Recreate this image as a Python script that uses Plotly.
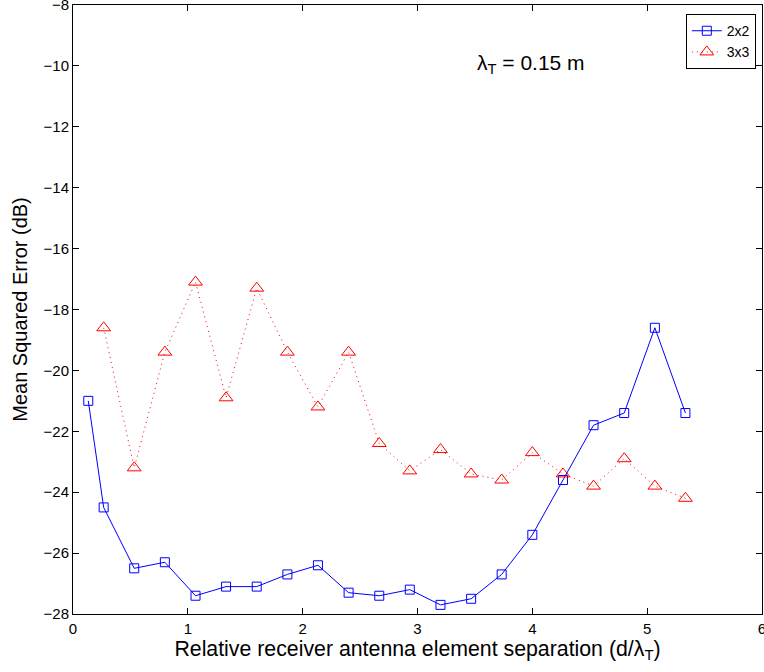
import plotly.graph_objects as go

x_2x2 = [0.133, 0.267, 0.533, 0.8, 1.067, 1.333, 1.6, 1.867, 2.133, 2.4, 2.667,
         2.933, 3.2, 3.467, 3.733, 4.0, 4.267, 4.533, 4.8, 5.067, 5.333]
y_2x2 = [-21.0, -24.5, -26.5, -26.3, -27.4, -27.1, -27.1, -26.7, -26.4, -27.3, -27.4,
         -27.2, -27.7, -27.5, -26.7, -25.4, -23.6, -21.8, -21.4, -18.6, -21.4]

x_3x3 = [0.267, 0.533, 0.8, 1.067, 1.333, 1.6, 1.867, 2.133, 2.4, 2.667,
         2.933, 3.2, 3.467, 3.733, 4.0, 4.267, 4.533, 4.8, 5.067, 5.333]
y_3x3 = [-18.6, -23.2, -19.4, -17.1, -20.9, -17.3, -19.4, -21.2, -19.4, -22.4,
         -23.3, -22.6, -23.4, -23.6, -22.7, -23.4, -23.8, -22.9, -23.8, -24.2]

x_ticks = [0, 1, 2, 3, 4, 5, 6]
y_ticks = [-28, -26, -24, -22, -20, -18, -16, -14, -12, -10, -8]

fig = go.Figure()
fig.add_trace(go.Scatter(
    x=x_2x2, y=y_2x2, name="2x2", mode="lines+markers",
    line=dict(color="#0000ff", width=1),
    marker=dict(symbol="square-open", size=9, color="#0000ff", line=dict(width=1)),
))
fig.add_trace(go.Scatter(
    x=x_3x3, y=y_3x3, name="3x3", mode="lines+markers",
    line=dict(color="#ff0000", width=1, dash="1px,4px"),
    marker=dict(symbol="triangle-up-open", size=12, color="#ff0000", line=dict(width=1)),
))

fig.add_annotation(
    x=3.5, y=-9.95, xref="x", yref="y", xanchor="left", yanchor="middle",
    text="λ<sub>T</sub> = 0.15 m", showarrow=False,
    font=dict(size=21, color="black"),
)

axis_common = dict(
    showline=True, linecolor="black", linewidth=1, mirror="ticks",
    ticks="inside", ticklen=6, tickcolor="black", showgrid=False, zeroline=False,
    tickfont=dict(size=15, color="black"), automargin=False,
    ticklabeloverflow="allow",
)

fig.update_xaxes(range=[0, 6], tickvals=x_ticks, **axis_common, ticklabelstandoff=1,
                 title=dict(text="Relative receiver antenna element separation (d/λ<sub>T</sub>)",
                            font=dict(size=21.3, color="black"), standoff=2))
fig.update_yaxes(range=[-28, -8], tickvals=y_ticks, **axis_common,
                 title=dict(text="Mean Squared Error (dB)",
                            font=dict(size=20, color="black"), standoff=10))

fig.update_layout(
    width=764, height=672,
    margin=dict(l=73, r=2, t=5, b=58),
    paper_bgcolor="white", plot_bgcolor="white",
    font=dict(family="Liberation Sans, Arial, sans-serif", color="black"),
    legend=dict(x=0.991, y=0.985, xanchor="right", yanchor="top",
                bordercolor="black", borderwidth=1, bgcolor="white",
                font=dict(size=14), itemwidth=30, tracegroupgap=0),
    showlegend=True,
)

fig.write_html("out.html", config={"displayModeBar": False},
               post_script="document.body.style.margin='0';document.body.style.overflow='hidden';")
